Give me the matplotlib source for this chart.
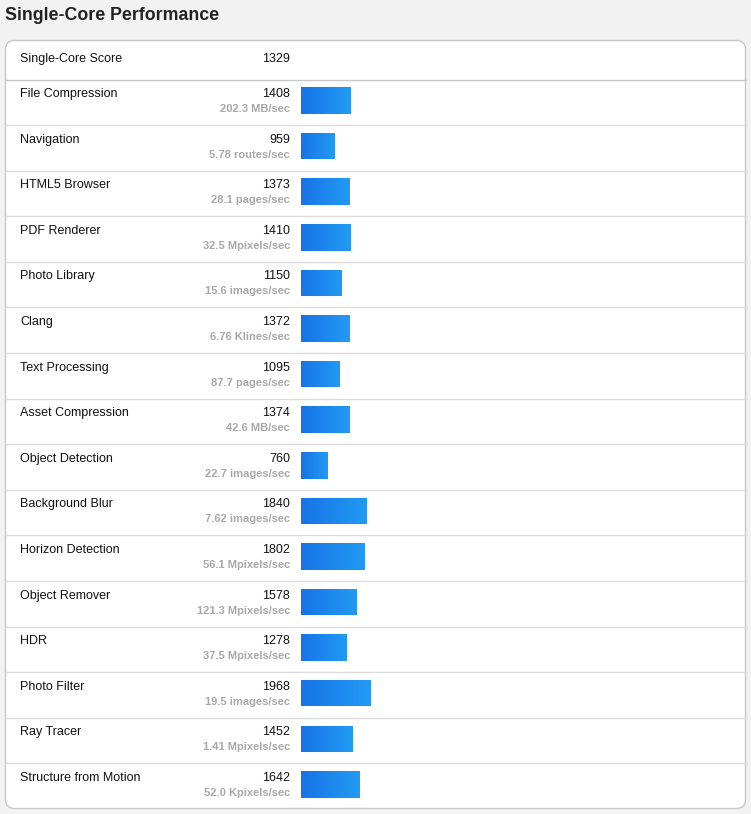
import matplotlib.pyplot as plt
import numpy as np
from matplotlib.patches import FancyBboxPatch
from matplotlib.colors import LinearSegmentedColormap

plt.rcParams['font.family'] = ['Liberation Sans', 'DejaVu Sans']

title = "Single-Core Performance"
total_label = "Single-Core Score"
total_score = 1329

names = ["File Compression", "Navigation", "HTML5 Browser", "PDF Renderer",
         "Photo Library", "Clang", "Text Processing", "Asset Compression",
         "Object Detection", "Background Blur", "Horizon Detection",
         "Object Remover", "HDR", "Photo Filter", "Ray Tracer",
         "Structure from Motion"]
scores = [1408, 959, 1373, 1410, 1150, 1372, 1095, 1374, 760, 1840, 1802,
          1578, 1278, 1968, 1452, 1642]
units = ["202.3 MB/sec", "5.78 routes/sec", "28.1 pages/sec",
         "32.5 Mpixels/sec", "15.6 images/sec", "6.76 Klines/sec",
         "87.7 pages/sec", "42.6 MB/sec", "22.7 images/sec",
         "7.62 images/sec", "56.1 Mpixels/sec", "121.3 Mpixels/sec",
         "37.5 Mpixels/sec", "19.5 images/sec", "1.41 Mpixels/sec",
         "52.0 Kpixels/sec"]

W, H = 751, 814
fig = plt.figure(figsize=(W / 100, H / 100), dpi=100, facecolor='#f2f2f2')

# layout axes in pixel coordinates
ax = fig.add_axes([0, 0, 1, 1])
ax.set_xlim(0, W)
ax.set_ylim(H, 0)
ax.axis('off')

ax.text(5, 15.5, title, fontsize=12.8, fontweight='bold', color='#222222',
        va='center', ha='left')

card = FancyBboxPatch((5.5, 40.5), 740, 768, boxstyle="round,pad=0,rounding_size=9",
                      facecolor='white', edgecolor='#c8c8c8', linewidth=1)
ax.add_patch(card)

ax.text(20, 59, total_label, fontsize=9, color='#111111', va='center')
ax.text(290, 59, str(total_score), fontsize=9, color='#111111', va='center',
        ha='right')
ax.plot([5.5, 745.5], [79.5, 79.5], color='#c8c8c8', lw=1)

top = 79.5
row_h = (809 - 79.5) / len(names)
for i, (n, s, u) in enumerate(zip(names, scores, units)):
    t = top + i * row_h
    ax.text(20, t + 14.5, n, fontsize=9, color='#111111', va='center')
    ax.text(290, t + 14.5, str(s), fontsize=9, color='#111111', va='center',
            ha='right')
    ax.text(290, t + 29.5, u, fontsize=8, fontweight='bold', color='#a8a8a8',
            va='center', ha='right')
    if i > 0:
        ax.plot([5.5, 745.5], [t, t], color='#dddddd', lw=1)

# bar axes: x in score units, y in row index
bx0, bx1 = 301, 745
bax = fig.add_axes([bx0 / W, (H - 809) / H, (bx1 - bx0) / W, (809 - 79.5) / H])
bax.axis('off')

pos = np.arange(len(names)) + 21 / row_h
bars = bax.barh(pos, scores, height=26.5 / row_h, facecolor='none', lw=0)
grad = np.linspace(0, 1, 64).reshape(1, -1)
cmap = LinearSegmentedColormap.from_list('g', ['#1774e6', '#229af4'])
for b in bars:
    x0, y0 = b.get_x(), b.get_y()
    im = bax.imshow(grad, cmap=cmap, aspect='auto', zorder=2,
                    extent=(x0, x0 + b.get_width(), y0 + b.get_height(), y0))
    im.set_clip_path(b)
bax.set_xlim(0, (bx1 - bx0) * 28.3)
bax.set_ylim(len(names), 0)

fig.savefig('out.png', dpi=100, facecolor=fig.get_facecolor())
